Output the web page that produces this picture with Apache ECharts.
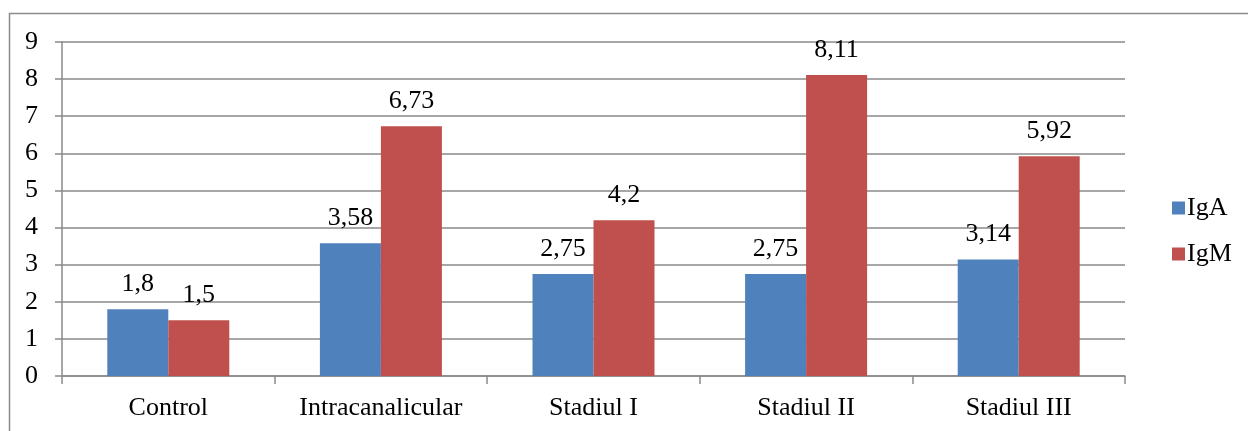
<!DOCTYPE html>
<html><head><meta charset="utf-8">
<script src="https://cdn.jsdelivr.net/npm/echarts@6/dist/echarts.min.js"></script>
<style>html,body{margin:0;padding:0;background:#fff}#c{width:1248px;height:431px}</style>
</head><body><div id="c"></div>
<script>
const categories = ['Control', 'Intracanalicular', 'Stadiul I', 'Stadiul II', 'Stadiul III'];
const igA = [1.8, 3.58, 2.75, 2.75, 3.14];
const igM = [1.5, 6.73, 4.2, 8.11, 5.92];
const yTicks = [0, 1, 2, 3, 4, 5, 6, 7, 8, 9];

const FONT = '"Liberation Serif", "Times New Roman", serif';
const FS = 26;
const GRID = '#8a8a8a';
const chart = echarts.init(document.getElementById('c'), null, {renderer: 'canvas'});
const lbl = {
  show: true, position: 'top', distance: 12,
  fontFamily: FONT, fontSize: FS, color: '#000',
  formatter: p => String(p.value).replace('.', ',')
};
chart.setOption({
  animation: false,
  graphic: [{
    type: 'rect', silent: true,
    shape: {x: 9.5, y: 13.5, width: 1400, height: 600},
    style: {fill: 'none', stroke: '#8c8c8c', lineWidth: 1.5}
  }],
  grid: {left: 62, right: 123, top: 42, bottom: 55, containLabel: false},
  legend: {
    orient: 'vertical', left: 1167, top: 190,
    itemWidth: 13, itemHeight: 13, itemGap: 20,
    icon: 'rect',
    textStyle: {fontFamily: FONT, fontSize: FS, color: '#000', lineHeight: 26, padding: [0, 0, 0, -3]},
    data: ['IgA', 'IgM']
  },
  xAxis: {
    type: 'category', data: categories,
    axisLine: {lineStyle: {color: GRID, width: 1.5}},
    axisTick: {show: true, length: 8, lineStyle: {color: GRID, width: 1.5}},
    axisLabel: {fontFamily: FONT, fontSize: FS, color: '#000', margin: 19}
  },
  yAxis: {
    type: 'value', min: yTicks[0], max: yTicks[yTicks.length - 1], interval: 1,
    axisLine: {show: true, lineStyle: {color: GRID, width: 1.5}},
    axisTick: {show: true, length: 7, lineStyle: {color: GRID, width: 1.5}},
    splitLine: {lineStyle: {color: GRID, width: 1.5}},
    axisLabel: {fontFamily: FONT, fontSize: FS, color: '#000', margin: 24}
  },
  series: [
    {name: 'IgA', type: 'bar', data: igA, barWidth: 61, barGap: '0%',
     itemStyle: {color: '#4F81BD'}, label: lbl},
    {name: 'IgM', type: 'bar', data: igM, barWidth: 61, barGap: '0%',
     itemStyle: {color: '#C0504D'}, label: lbl}
  ]
});
</script></body></html>
